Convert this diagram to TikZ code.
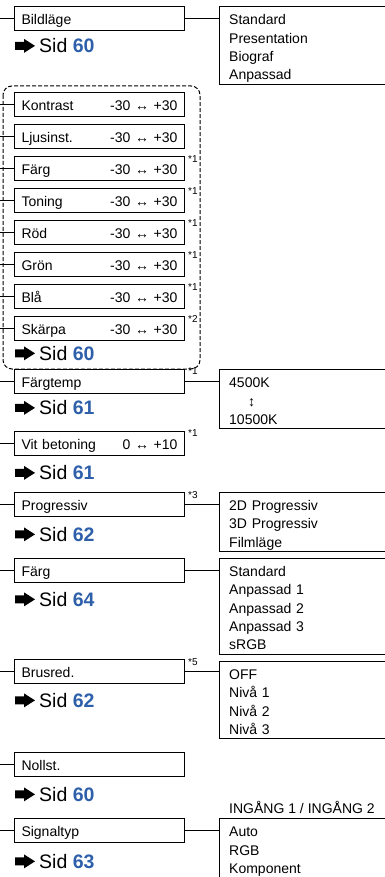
\documentclass[tikz,border=0pt]{standalone}
\usepackage{fontspec}
\setmainfont{Liberation Sans}
\usetikzlibrary{positioning,calc}
\definecolor{sidblue}{RGB}{45,95,170}
\tikzset{
  menu/.style={draw,line width=1pt,anchor=west,text width=156pt,align=left,inner xsep=7pt,inner ysep=0pt,
    minimum height=24pt,text height=12pt,text depth=0pt,font=\fontsize{14}{17}\selectfont},
  opt/.style={inner xsep=10pt,inner ysep=0pt,text width=146pt,align=left,font=\fontsize{14}{18.4}\selectfont,
    execute at begin node={\rule{0pt}{18pt}},execute at end node={\rule[-4pt]{0pt}{4pt}}},
  note/.style={inner sep=0pt,font=\fontsize{10}{12}\selectfont},
  sid/.style={inner sep=0pt,font=\fontsize{19.5}{22}\selectfont},
  link/.style={line width=1pt},
  grp/.style={line width=1pt,dash pattern=on 4pt off 2pt,rounded corners=9pt},
}

\begin{document}
\begin{tikzpicture}[x=1pt,y=1pt]
  \useasboundingbox (0,0) rectangle (384,-877);
  \coordinate (edge) at (0,0);

  \node[menu] (bild) at (14,-19) {Bildläge};
  \node[menu] (kontrast) at (14,-104.5) {Kontrast\hfill -30 ↔ +30};
  \node[menu] (ljus) [below=7pt of kontrast] {Ljusinst.\hfill -30 ↔ +30};
  \node[menu] (farg) [below=7pt of ljus] {Färg\hfill -30 ↔ +30};
  \node[menu] (toning) [below=7pt of farg] {Toning\hfill -30 ↔ +30};
  \node[menu] (rod) [below=7pt of toning] {Röd\hfill -30 ↔ +30};
  \node[menu] (gron) [below=7pt of rod] {Grön\hfill -30 ↔ +30};
  \node[menu] (bla) [below=7pt of gron] {Blå\hfill -30 ↔ +30};
  \node[menu] (skarpa) [below=7pt of bla] {Skärpa\hfill -30 ↔ +30};
  \node[menu] (temp) at (14,-381) {Färgtemp};
  \node[menu] (vit) at (14,-443) {Vit betoning\hfill 0 ↔ +10};
  \node[menu] (prog) at (14,-504.5) {Progressiv};
  \node[menu] (farg2) at (14,-570.5) {Färg};
  \node[menu] (brus) at (14,-671.5) {Brusred.};
  \node[menu] (noll) at (14,-764.5) {Nollst.};
  \node[menu] (signal) at (14,-830.5) {Signaltyp};

  \node[opt,minimum height=74pt] (obild) [below right=0pt and 34pt of bild.north east]
    {Standard\\Presentation\\Biograf\\Anpassad};
  \node[opt,minimum height=58pt,execute at begin node={},execute at end node={}] (otemp)
    [below right=1pt and 34pt of temp.north east]
    {4500K\\\hspace*{19pt}↕\\10500K};
  \node[opt,minimum height=58pt] (oprog) [below right=0pt and 34pt of prog.north east]
    {2D Progressiv\\3D Progressiv\\Filmläge};
  \node[opt,minimum height=93pt] (ofarg) [below right=0pt and 34pt of farg2.north east]
    {Standard\\Anpassad 1\\Anpassad 2\\Anpassad 3\\sRGB};
  \node[opt,minimum height=74pt] (obrus) [below right=2pt and 34pt of brus.north east]
    {OFF\\Nivå 1\\Nivå 2\\Nivå 3};
  \node[opt,minimum height=60pt] (osig) [below right=0pt and 34pt of signal.north east]
    {Auto\\RGB\\Komponent};
  \node[inner sep=0pt,font=\fontsize{14}{17}\selectfont] (ingang)
    [above right=4pt and 10pt of osig.north west] {INGÅNG 1 / INGÅNG 2};

  \node[sid] (sbild) [below right=7pt and 25pt of bild.south west] {Sid {\bfseries\color{sidblue}60}};
  \node[sid] (sgrp) [below right=5pt and 25pt of skarpa.south west] {Sid {\bfseries\color{sidblue}60}};
  \node[sid] (stemp) [below right=7pt and 25pt of temp.south west] {Sid {\bfseries\color{sidblue}61}};
  \node[sid] (svit) [below right=10pt and 25pt of vit.south west] {Sid {\bfseries\color{sidblue}61}};
  \node[sid] (sprog) [below right=10pt and 25pt of prog.south west] {Sid {\bfseries\color{sidblue}62}};
  \node[sid] (sfarg) [below right=9pt and 25pt of farg2.south west] {Sid {\bfseries\color{sidblue}64}};
  \node[sid] (sbrus) [below right=9pt and 25pt of brus.south west] {Sid {\bfseries\color{sidblue}62}};
  \node[sid] (snoll) [below right=10pt and 25pt of noll.south west] {Sid {\bfseries\color{sidblue}60}};
  \node[sid] (ssig) [below right=11pt and 25pt of signal.south west] {Sid {\bfseries\color{sidblue}63}};

  \foreach \m/\n in {farg/1,toning/1,rod/1,gron/1,bla/1,skarpa/2,temp/1,vit/1,prog/3,brus/5}
    \node[note] (n\m) [below right=-1pt and 3pt of \m.north east] {*\n};

  \foreach \m in {bild,kontrast,ljus,farg,toning,rod,gron,bla,skarpa,temp,vit,prog,farg2,brus,noll,signal}
    \draw[link] (\m.west) -- (\m.west -| edge);
  \foreach \m/\o in {bild/obild,temp/otemp,prog/oprog,farg2/ofarg,brus/obrus,signal/osig}
    \draw[link] (\m.east) -- (\m.east -| \o.west);
  \foreach \o in {obild,otemp,oprog,ofarg,obrus,osig}
    \draw[link] (\o.north east) -- (\o.north west) -- (\o.south west) -- (\o.south east);
  \foreach \s in {sbild,sgrp,stemp,svit,sprog,sfarg,sbrus,snoll,ssig}
    \fill (\s.west) ++(-4,0) -- ++(-11,7) -- ++(0,-3) -- ++(-9,0) -- ++(0,-8) -- ++(9,0) -- ++(0,-3) -- cycle;

  \draw[grp] ($(kontrast.north west)+(-11,6)$) rectangle ($(skarpa.south east)+(15,-28)$);
\end{tikzpicture}
\end{document}
